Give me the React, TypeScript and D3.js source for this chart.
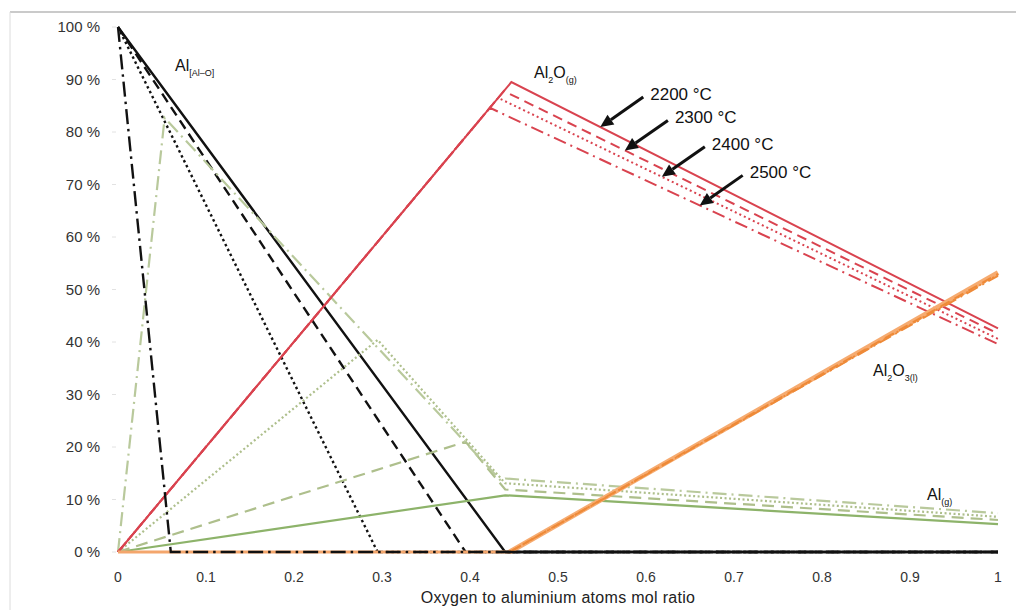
import React from 'react';
import * as d3 from 'd3';

// Temperatures (solid, dashed, dotted, dash-dot)
const temperatures = ['2200 °C', '2300 °C', '2400 °C', '2500 °C'];

// Al[Al-O] (black)
const alLiquid = [
  [[0, 100], [0.44, 0], [1, 0]],
  [[0, 100], [0.395, 0], [1, 0]],
  [[0, 100], [0.295, 0], [1, 0]],
  [[0, 100], [0.06, 0], [1, 0]],
];
// Al2O(g) (red)
const al2oGas = [
  [[0, 0], [0.447, 89.5], [1, 42.6]],
  [[0, 0], [0.4385, 87.8], [1, 41.6]],
  [[0, 0], [0.432, 86.5], [1, 40.6]],
  [[0, 0], [0.4226, 84.6], [1, 39.6]],
];
// Al2O3(l) (orange)
const al2o3Liquid = [
  [[0, 0], [0.445, 0], [1, 53.2]],
  [[0, 0], [0.445, 0], [1, 53]],
  [[0, 0], [0.445, 0], [1, 52.8]],
  [[0, 0], [0.445, 0], [1, 52.6]],
];
// Al(g) (green)
const alGas = [
  [[0, 0], [0.44, 10.8], [1, 5.3]],
  [[0, 0], [0.395, 21], [0.44, 11.9], [1, 6.1]],
  [[0, 0], [0.295, 40.4], [0.44, 13.1], [1, 6.7]],
  [[0, 0], [0.053, 82.7], [0.435, 13.6], [0.44, 14], [1, 7.4]],
];

// where the temperature arrows point on the Al2O(g) lines
const arrowX = [0.548, 0.576, 0.618, 0.661];

const xTicks = [0, 0.1, 0.2, 0.3, 0.4, 0.5, 0.6, 0.7, 0.8, 0.9, 1];
const yTicks = [0, 10, 20, 30, 40, 50, 60, 70, 80, 90, 100];

const dashArr = [null, '10 6', '2 3', '13 5 2 5'];
const blackDash = [null, '10 6', '2.5 3', '15 5 2.5 5'];

export default function App() {
  const w = 1016;
  const h = 612;
  const x = d3.scaleLinear().domain([0, 1]).range([118, 998]);
  const y = d3.scaleLinear().domain([0, 100]).range([552, 27]);
  const line = d3.line<number[]>().x(d => x(d[0])).y(d => y(d[1]));

  const font = 'Liberation Sans, Arial, sans-serif';

  // value of a polyline at given x
  const at = (pts: number[][], v: number) => {
    for (let i = 1; i < pts.length; i++) {
      if (v <= pts[i][0]) {
        const t = (v - pts[i - 1][0]) / (pts[i][0] - pts[i - 1][0]);
        return pts[i - 1][1] + t * (pts[i][1] - pts[i - 1][1]);
      }
    }
    return pts[pts.length - 1][1];
  };

  return (
    <svg width={w} height={h} style={{ position: 'absolute', left: 0, top: 0, background: '#fff' }}>
      {/* frame */}
      <line x1={10} y1={12} x2={1016} y2={12} stroke="#b8b8b8" strokeWidth={1.5} />
      <line x1={10} y1={12} x2={10} y2={610} stroke="#dcdcdc" strokeWidth={1} />

      {/* y tick marks & labels */}
      {yTicks.map(t => (
        <g key={t}>
          <line x1={112} x2={116} y1={y(t)} y2={y(t)} stroke="#e2e2e2" />
          <text x={100} y={y(t)} dy="0.35em" textAnchor="end" fontSize={15} fill="#333" fontFamily={font}>
            {t} %
          </text>
        </g>
      ))}
      {xTicks.map(t => (
        <text key={t} x={x(t)} y={582} textAnchor="middle" fontSize={14} fill="#333" fontFamily={font}>
          {d3.format('~g')(t)}
        </text>
      ))}
      <text x={558} y={603} textAnchor="middle" fontSize={16} fill="#222" fontFamily={font} letterSpacing={0.3}>
        Oxygen to aluminium atoms mol ratio
      </text>

      {/* Al[Al-O] (except dash-dot, drawn later on top of the orange base) */}
      {alLiquid.map((s, i) => i === 3 ? null : (
        <path key={'b' + i} d={line(s) || ''} fill="none" stroke="#111" strokeWidth={2.4}
          strokeDasharray={blackDash[i] || undefined} />
      ))}
      {/* Al(g) */}
      {alGas.map((s, i) => (
        <path key={'g' + i} d={line(s) || ''} fill="none"
          stroke={i === 0 ? '#8db36a' : i === 3 ? '#b9c99c' : '#aebf8c'} strokeWidth={2.2}
          strokeDasharray={i === 1 ? '12 7' : i === 2 ? '2 2.5' : i === 3 ? '14 5 2 5' : undefined} />
      ))}
      {/* Al2O(g) */}
      {al2oGas.map((s, i) => (
        <path key={'r' + i} d={line(s) || ''} fill="none" stroke="#d9434f" strokeWidth={2}
          strokeDasharray={dashArr[i] || undefined} />
      ))}
      {/* Al2O3(l): flat part thin, rising part thick and rough */}
      <path d={line(al2o3Liquid[0].slice(0, 2)) || ''} fill="none" stroke="#f4a66c" strokeWidth={3} />
      {al2o3Liquid.map((s, i) => (
        <path key={'o' + i} d={line(s.slice(1)) || ''} fill="none"
          stroke={i === 0 ? '#f6ab70' : '#ee8a38'}
          strokeWidth={i === 0 ? 5 : 1.8}
          strokeDasharray={dashArr[i] || undefined} />
      ))}
      <path d={line(alLiquid[0].slice(1)) || ''} fill="none" stroke="#111" strokeWidth={2.4} />
      <path d={line(alLiquid[3]) || ''} fill="none" stroke="#111" strokeWidth={2.4}
        strokeDasharray={blackDash[3] || undefined} />

      {/* temperature arrows */}
      {temperatures.map((tl, i) => {
        const tx = x(arrowX[i]);
        const ty = y(at(al2oGas[i], arrowX[i]));
        const sx = tx + 43;
        const sy = ty - 30;
        const ang = Math.atan2(ty - sy, tx - sx);
        const L = 13;
        const W = 6;
        const bx = tx - L * Math.cos(ang);
        const by = ty - L * Math.sin(ang);
        const p1 = [bx + W * Math.sin(ang), by - W * Math.cos(ang)];
        const p2 = [bx - W * Math.sin(ang), by + W * Math.cos(ang)];
        return (
          <g key={tl}>
            <line x1={sx} y1={sy} x2={bx} y2={by} stroke="#111" strokeWidth={3} />
            <polygon points={`${tx},${ty} ${p1[0]},${p1[1]} ${p2[0]},${p2[1]}`} fill="#111" />
            <text x={tx + 50} y={ty - 27} fontSize={17} fill="#111" fontFamily={font}>{tl}</text>
          </g>
        );
      })}

      {/* species labels */}
      <text x={175} y={71} fontSize={16} fill="#111" fontFamily={font}>
        Al<tspan fontSize={9} dy={5}>[Al–O]</tspan>
      </text>
      <text x={534} y={78} fontSize={16} fill="#111" fontFamily={font}>
        Al<tspan fontSize={9} dy={5}>2</tspan><tspan dy={-5}>O</tspan><tspan fontSize={9} dy={5}>(g)</tspan>
      </text>
      <text x={873} y={376} fontSize={16} fill="#111" fontFamily={font}>
        Al<tspan fontSize={9} dy={5}>2</tspan><tspan dy={-5}>O</tspan><tspan fontSize={9} dy={5}>3(l)</tspan>
      </text>
      <text x={927} y={500} fontSize={16} fill="#111" fontFamily={font}>
        Al<tspan fontSize={9} dy={5}>(g)</tspan>
      </text>
    </svg>
  );
}
